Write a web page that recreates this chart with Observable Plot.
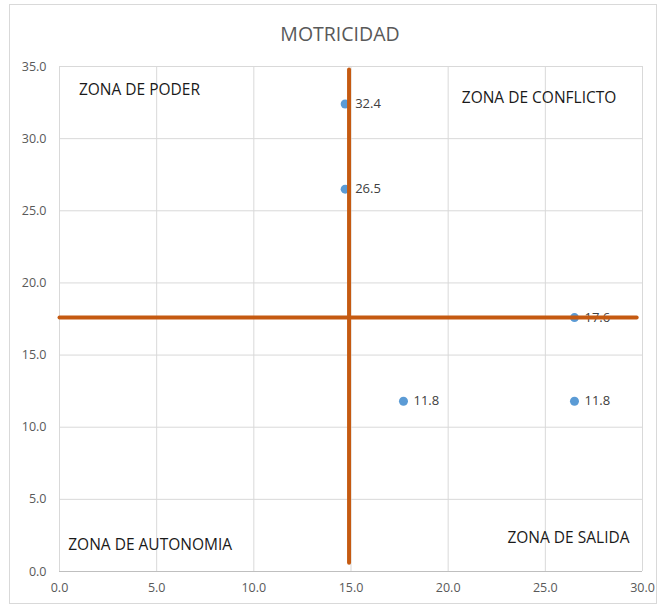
<!DOCTYPE html>
<html>
<head>
<meta charset="utf-8">
<script src="https://cdn.jsdelivr.net/npm/d3@7"></script>
<script src="https://cdn.jsdelivr.net/npm/@observablehq/plot@0.6"></script>
<style>
  body { margin: 0; background: #fff; }
  #wrap { position: relative; width: 662px; height: 608px; overflow: hidden; background: #fff; }
  #border { position: absolute; left: 9px; top: 4px; width: 648px; height: 600px; border: 1px solid #d9d9d9; box-sizing: border-box; }
  #title { position: absolute; left: 0; top: 20px; width: 680px; text-align: center; font-family: "Open Sans", sans-serif; font-size: 19.5px; color: #595959; }
  #chart { position: absolute; left: 0; top: 50px; }
</style>
</head>
<body>
<div id="wrap">
  <div id="border"></div>
  <div id="title">MOTRICIDAD</div>
  <div id="chart"></div>
</div>
<script>
// Data points
const pointX = [14.7, 14.7, 17.7, 26.5, 26.5];
const pointY = [32.4, 26.5, 11.8, 17.6, 11.8];

// Divider lines (quadrant separators)
const vLineX = [14.9, 14.9];
const vLineY = [0.6, 34.8];
const hLineX = [0, 29.7];
const hLineY = [17.6, 17.6];

// Zone labels
const zoneNames = ["ZONA DE PODER", "ZONA DE CONFLICTO", "ZONA DE AUTONOMIA", "ZONA DE SALIDA"];
const zoneX = [1.0, 20.7, 0.45, 23.05];
const zoneY = [33.4, 32.8, 1.8, 2.3];

// Ticks
const xTicks = [0, 5, 10, 15, 20, 25, 30];
const yTicks = [0, 5, 10, 15, 20, 25, 30, 35];

const points = pointX.map((x, i) => ({x, y: pointY[i]}));
const vLine = vLineX.map((x, i) => ({x, y: vLineY[i]}));
const hLine = hLineX.map((x, i) => ({x, y: hLineY[i]}));
const zones = zoneNames.map((name, i) => ({name, x: zoneX[i], y: zoneY[i]}));

const fmt = d3.format(".1f");

const chart = Plot.plot({
  width: 662,
  height: 558,
  marginTop: 16,
  marginBottom: 37,
  marginLeft: 59,
  marginRight: 20,
  style: { fontFamily: "'Open Sans', sans-serif", background: "transparent" },
  x: { domain: [0, 30], ticks: xTicks, tickFormat: fmt },
  y: { domain: [0, 35], ticks: yTicks, tickFormat: fmt },
  marks: [
    Plot.gridX(xTicks, { stroke: "#d9d9d9", strokeOpacity: 1 }),
    Plot.gridY(yTicks.filter(d => d > 0), { stroke: "#d9d9d9", strokeOpacity: 1 }),
    Plot.ruleY([0], { stroke: "#bfbfbf", strokeWidth: 1 }),
    Plot.axisX(xTicks, { tickSize: 0, tickPadding: 12, tickFormat: fmt, fontSize: 12.5, fill: "#595959", label: null }),
    Plot.axisY(yTicks, { tickSize: 0, tickPadding: 13, tickFormat: fmt, fontSize: 12.5, fill: "#595959", label: null }),
    Plot.dot(points, { x: "x", y: "y", r: 4.5, fill: "#5b9bd5", stroke: null }),
    Plot.text(points, { x: "x", y: "y", text: d => fmt(d.y), dx: 10, textAnchor: "start", fontSize: 13, fill: "#404040" }),
    Plot.line(vLine, { x: "x", y: "y", stroke: "#c55a11", strokeWidth: 4 }),
    Plot.line(hLine, { x: "x", y: "y", stroke: "#c55a11", strokeWidth: 4 }),
    Plot.text(zones, { x: "x", y: "y", text: "name", textAnchor: "start", fontSize: 15.5, fill: "#1a1a1a" })
  ]
});
document.getElementById("chart").appendChild(chart);
</script>
</body>
</html>
